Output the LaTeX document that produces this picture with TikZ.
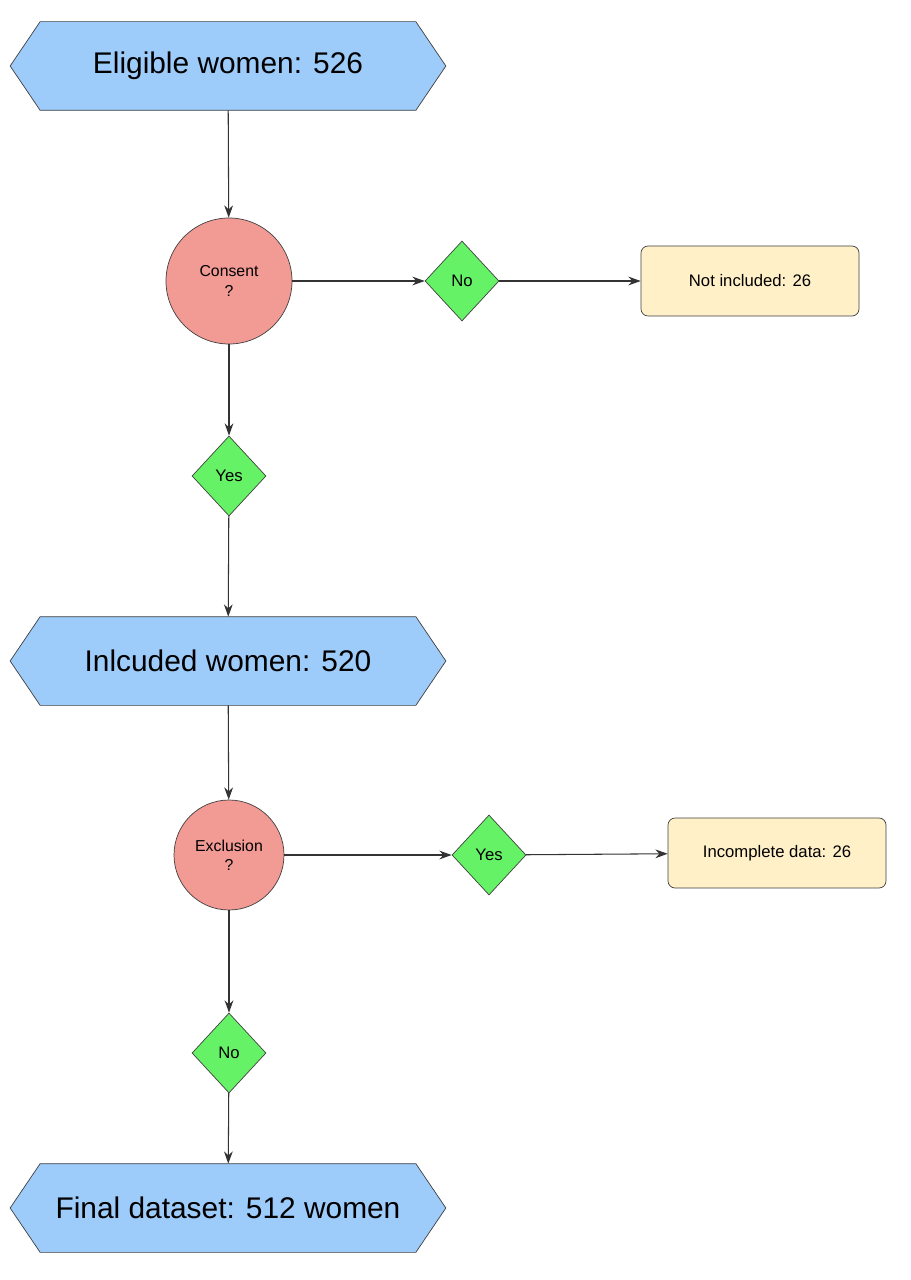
\documentclass[tikz,border=0pt]{standalone}
\usepackage{fontspec}
\setmainfont{Liberation Sans}
\usetikzlibrary{shapes.geometric,arrows.meta}
\definecolor{hexb}{HTML}{9DCBFA}
\definecolor{circ}{HTML}{F29A94}
\definecolor{dia}{HTML}{66F266}
\definecolor{boxc}{HTML}{FFF0C8}
\begin{document}
\begin{tikzpicture}[x=0.02cm,y=-0.02cm,
  hex/.style={minimum width=435*0.02cm,minimum height=88*0.02cm,inner sep=0pt,font=\fontsize{17}{20}\selectfont},
  q/.style={circle,draw=black!75,fill=circ,font=\fontsize{9}{11}\selectfont,align=center,inner sep=0pt},
  d/.style={diamond,draw=black!75,fill=dia,minimum width=74*0.02cm,minimum height=80*0.02cm,inner sep=0pt,font=\fontsize{9.5}{11}\selectfont},
  bx/.style={rounded corners=4pt,draw=black!75,fill=boxc,minimum width=218*0.02cm,minimum height=70*0.02cm,font=\fontsize{9.5}{11}\selectfont},
  ar/.style={-{Stealth[length=7pt,width=5pt]},black!80,line width=0.6pt}]
\useasboundingbox (0,0) rectangle (911,1280);
\newcommand{\hexshape}[1]{%
  \fill[hexb] ([xshift=30*0.02cm]#1.north west) -- ([xshift=-30*0.02cm]#1.north east) -- (#1.east) -- ([xshift=-30*0.02cm]#1.south east) -- ([xshift=30*0.02cm]#1.south west) -- (#1.west) -- cycle;
  \draw[black!75] ([xshift=30*0.02cm]#1.north west) -- ([xshift=-30*0.02cm]#1.north east) -- (#1.east) -- ([xshift=-30*0.02cm]#1.south east) -- ([xshift=30*0.02cm]#1.south west) -- (#1.west) -- cycle;}
\node[hex] (h1) at (228,66) {};
\hexshape{h1}
\node[font=\fontsize{17}{20}\selectfont] (t1) at (228,66) {Eligible women: 526};
\node[q,minimum width=126*0.02cm] (c1) at (229,281) {Consent\\?};
\node[d] (n1) at (462,281) {No};
\node[bx] (b1) at (750,281) {Not included: 26};
\node[d] (y1) at (229,476) {Yes};
\node[hex] (h2) at (228,661) {};
\hexshape{h2}
\node[font=\fontsize{17}{20}\selectfont] at (228,661) {Inlcuded women: 520};
\node[q,minimum width=110*0.02cm] (c2) at (229,855) {Exclusion\\?};
\node[d] (y2) at (489,855) {Yes};
\node[bx] (b2) at (777,853) {Incomplete data: 26};
\node[d] (n2) at (229,1053) {No};
\node[hex] (h3) at (228,1208) {};
\hexshape{h3}
\node[font=\fontsize{17}{20}\selectfont] at (228,1208) {Final dataset: 512 women};
\draw[ar] (h1) -- (c1);
\draw[ar] (c1) -- (n1);
\draw[ar] (n1) -- (b1);
\draw[ar] (c1) -- (y1);
\draw[ar] (y1) -- (h2);
\draw[ar] (h2) -- (c2);
\draw[ar] (c2) -- (y2);
\draw[ar] (y2) -- (b2);
\draw[ar] (c2) -- (n2);
\draw[ar] (n2) -- (h3);
\end{tikzpicture}
\end{document}
